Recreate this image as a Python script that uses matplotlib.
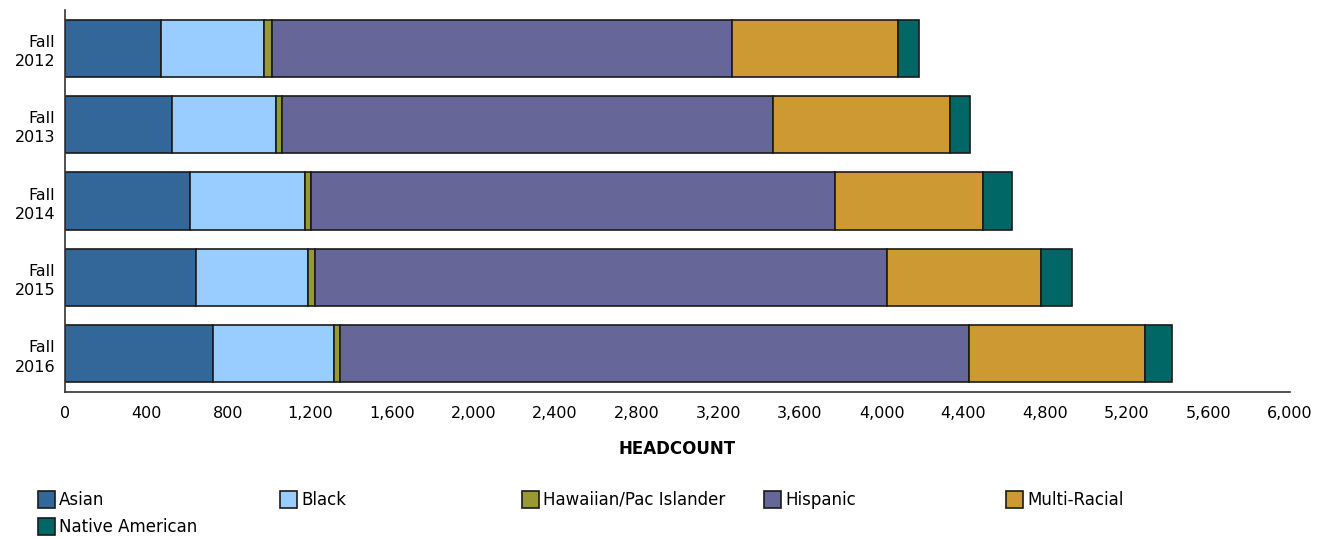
import numpy as np
import matplotlib
matplotlib.use('Agg')
import matplotlib.pyplot as plt
from matplotlib.patches import Rectangle
from matplotlib.ticker import FuncFormatter, MultipleLocator

plt.rcParams['font.family'] = ['Liberation Sans Narrow', 'DejaVu Sans']

# headcount by term
terms = ['Fall\n2012', 'Fall\n2013', 'Fall\n2014', 'Fall\n2015', 'Fall\n2016']
asian = [472, 525, 612, 640, 723]
black = [504, 509, 565, 550, 594]
hawaiian = [39, 28, 28, 33, 29]
hispanic = [2253, 2406, 2567, 2802, 3084]
multi_racial = [811, 866, 724, 756, 860]
native_american = [106, 98, 144, 153, 134]

groups = ['Asian', 'Black', 'Hawaiian/Pac Islander', 'Hispanic', 'Multi-Racial', 'Native American']
series = [asian, black, hawaiian, hispanic, multi_racial, native_american]
colors = ['#336699', '#99ccff', '#999933', '#666699', '#cc9933', '#006666']

fig = plt.figure(figsize=(13.28, 5.39), dpi=100)
ax = fig.add_axes([65/1328, 1-392/539, (1290-65)/1328, (392-10)/539])

y = np.arange(len(terms))
left = np.zeros(len(terms))
for vals, c, name in zip(series, colors, groups):
    ax.barh(y, vals, left=left, height=0.75, color=c, edgecolor='#1a1a1a',
            linewidth=1.2, label=name)
    left += np.array(vals)

ax.set_ylim(len(terms)-0.5, -0.5)
ax.set_xlim(0, 6000)
ax.set_yticks(y)
ax.set_yticklabels(terms, fontsize=11.5, linespacing=1.35, multialignment='right')
ax.xaxis.set_major_locator(MultipleLocator(400))
ax.xaxis.set_major_formatter(FuncFormatter(lambda v, p: '{:,.0f}'.format(v)))
ax.tick_params(axis='x', length=0, pad=10, labelsize=11.5)
ax.tick_params(axis='y', length=0, pad=7)
for s in ['top', 'right']:
    ax.spines[s].set_visible(False)
for s in ['left', 'bottom']:
    ax.spines[s].set_color('#333333')
    ax.spines[s].set_linewidth(1.2)
ax.set_xlabel('HEADCOUNT', fontsize=12, fontweight='bold', labelpad=14)

# legend drawn as fixed-width columns like the original
col_w = 242
for i, (name, c) in enumerate(zip(groups, colors)):
    row, col = divmod(i, 5)
    x0 = 38 + col*col_w
    y0 = 491 + row*27
    fig.patches.append(Rectangle((x0/1328, 1-(y0+17)/539), 17/1328, 17/539,
                                 transform=fig.transFigure, facecolor=c,
                                 edgecolor='#1a1a1a', linewidth=1.2))
    fig.text((x0+21)/1328, 1-(y0+9)/539, name, fontsize=12, va='center', ha='left')

fig.savefig('out.png', dpi=100)
